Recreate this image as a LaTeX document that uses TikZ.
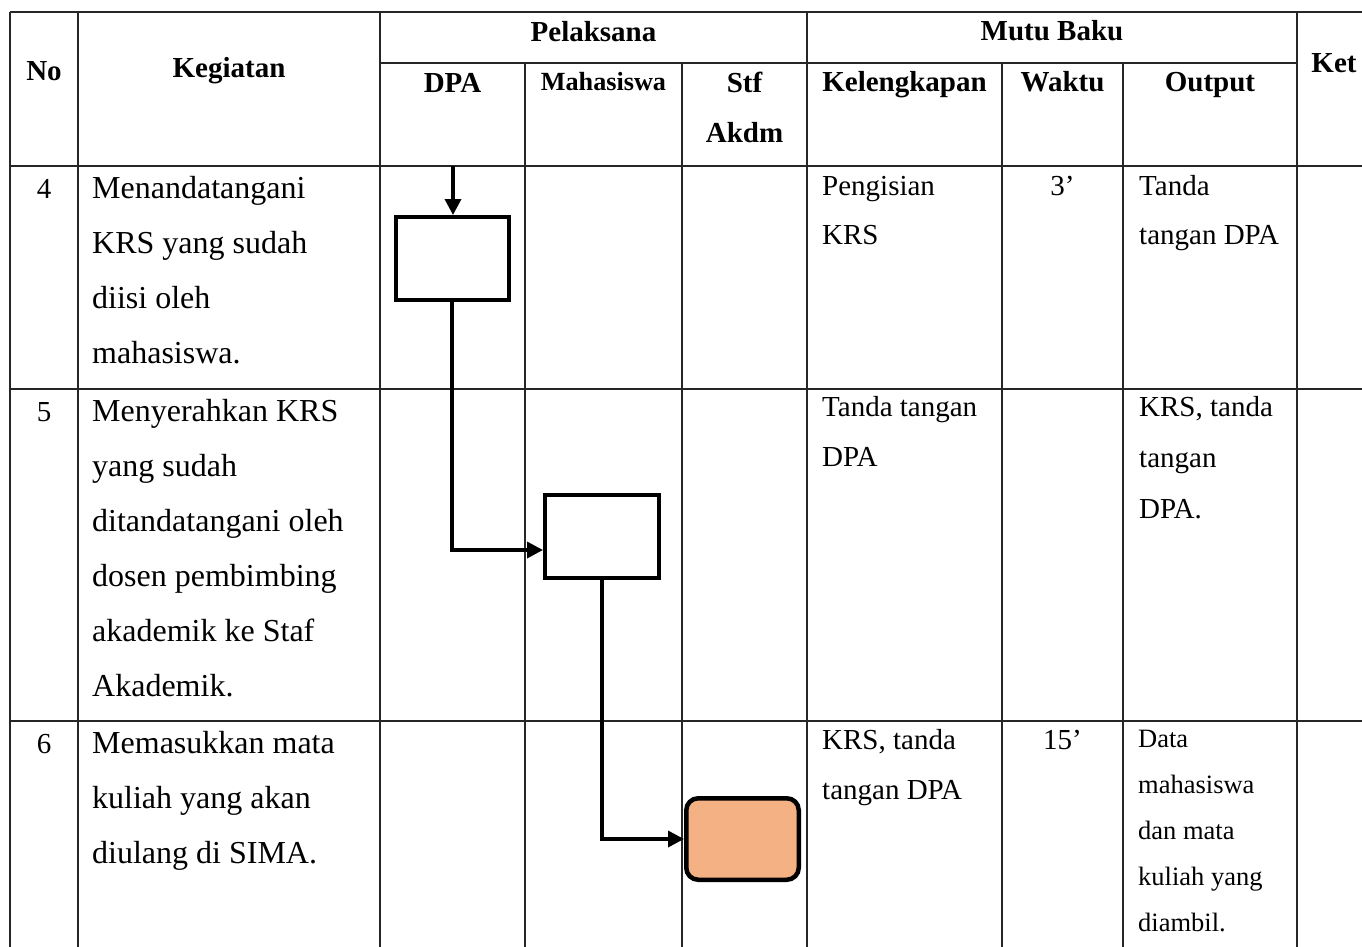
\documentclass[tikz,border=0pt]{standalone}
\usepackage{fontspec}
\setmainfont{Liberation Serif}
\usetikzlibrary{arrows.meta}
\definecolor{peach}{HTML}{F4B183}
\newcommand\mycell[3]{\parbox[t]{400pt}{\fontsize{#1}{#2}\selectfont #3}}
\newcommand\mycellc[3]{\parbox[t]{200pt}{\centering\fontsize{#1}{#2}\selectfont #3}}
\tikzset{
  tline/.style={line width=1.5pt, black!85},
  txt/.style={inner sep=0pt, anchor=base west},
  ctr/.style={inner sep=0pt, anchor=base},
  hdr/.style={inner sep=0pt, anchor=base, font=\bfseries\fontsize{29}{29}\selectfont},
  proc/.style={draw=black, line width=4pt, inner sep=0pt, minimum width=113pt, minimum height=83pt},
  term/.style={draw=black, fill=peach, line width=4.5pt, rounded corners=12pt, inner sep=0pt, minimum width=112.5pt, minimum height=81.5pt},
  conn/.style={draw=black, line width=3.5pt, -{Triangle[length=16pt,width=16pt]}}
}
\begin{document}
\begin{tikzpicture}[x=1pt,y=-1pt]
\useasboundingbox (0,0) rectangle (1362,946);
\clip (0,0) rectangle (1362,946);
\fill[white] (0,0) rectangle (1362,946);

% table rules
\draw[tline] (10,12) -- (1380,12);
\draw[tline] (380,63) -- (1297,63);
\draw[tline] (10,166) -- (1380,166);
\draw[tline] (10,389) -- (1380,389);
\draw[tline] (10,721) -- (1380,721);
\foreach \x in {10,78,380,807,1297} \draw[tline] (\x,12) -- (\x,960);
\foreach \x in {525,682,1002,1123} \draw[tline] (\x,63) -- (\x,960);

% headers
\node[hdr] (hNo) at (44,80) {No};
\node[hdr] (hKeg) at (229,77) {Kegiatan};
\node[hdr] (hPel) at (593.5,41) {Pelaksana};
\node[hdr] (hMutu) at (1052,40) {Mutu Baku};
\node[hdr] (hDPA) at (452.5,92) {DPA};
\node[ctr, font=\bfseries\fontsize{26.2}{26.2}\selectfont] (hMhs) at (603.5,90) {Mahasiswa};
\node[ctr, font=\bfseries] (hStf) at (744.5,92) {\mycellc{29}{50}{Stf\\Akdm}};
\node[hdr] (hKel) at (904.5,91) {Kelengkapan};
\node[hdr] (hWak) at (1062.5,91) {Waktu};
\node[hdr] (hOut) at (1210,91) {Output};
\node[hdr] (hKet) at (1334,72) {Ket};

% numbers
\node[ctr, font=\fontsize{29}{29}\selectfont] (n4) at (44,198) {4};
\node[ctr, font=\fontsize{29}{29}\selectfont] (n5) at (44,421) {5};
\node[ctr, font=\fontsize{29}{29}\selectfont] (n6) at (44,753) {6};

% kegiatan
\node[txt] (k4) at (92,198) {\mycell{32}{55}{Menandatangani\\KRS yang sudah\\diisi oleh\\mahasiswa.}};
\node[txt] (k5) at (92,421) {\mycell{32}{55}{Menyerahkan KRS\\yang sudah\\ditandatangani oleh\\dosen pembimbing\\akademik ke Staf\\Akademik.}};
\node[txt] (k6) at (92,753) {\mycell{32}{55}{Memasukkan mata\\kuliah yang akan\\diulang di SIMA.}};

% kelengkapan
\node[txt] (l4) at (822,195) {\mycell{29}{49.5}{Pengisian\\KRS}};
\node[txt] (l5) at (822,416) {\mycell{29}{50}{Tanda tangan\\DPA}};
\node[txt] (l6) at (822,749) {\mycell{29}{50}{KRS, tanda\\tangan DPA}};

% waktu
\node[ctr, font=\fontsize{29}{29}\selectfont] (w4) at (1062.5,195) {3’};
\node[ctr, font=\fontsize{29}{29}\selectfont] (w6) at (1062.5,749) {15’};

% output
\node[txt] (o4) at (1139,195) {\mycell{29}{49.5}{Tanda\\tangan DPA}};
\node[txt] (o5) at (1139,416) {\mycell{29}{51}{KRS, tanda\\tangan\\DPA.}};
\node[txt] (o6) at (1138,747) {\mycell{26.5}{46}{Data\\mahasiswa\\dan mata\\kuliah yang\\diambil.}};

% flowchart
\coordinate (s0) at (453,166);
\coordinate (j1) at (0,550);
\node[proc] (p1) at (452,258.5) {};
\node[proc, minimum width=114pt] (p2) at (602,536.5) {};
\node[term] (p3) at (742.5,839) {};
\draw[conn] (s0) -- (s0 |- p1.north);
\draw[conn] (p1.south) |- (p2.west |- j1);
\draw[conn] (p2.south) |- (p3.west);
\end{tikzpicture}
\end{document}
